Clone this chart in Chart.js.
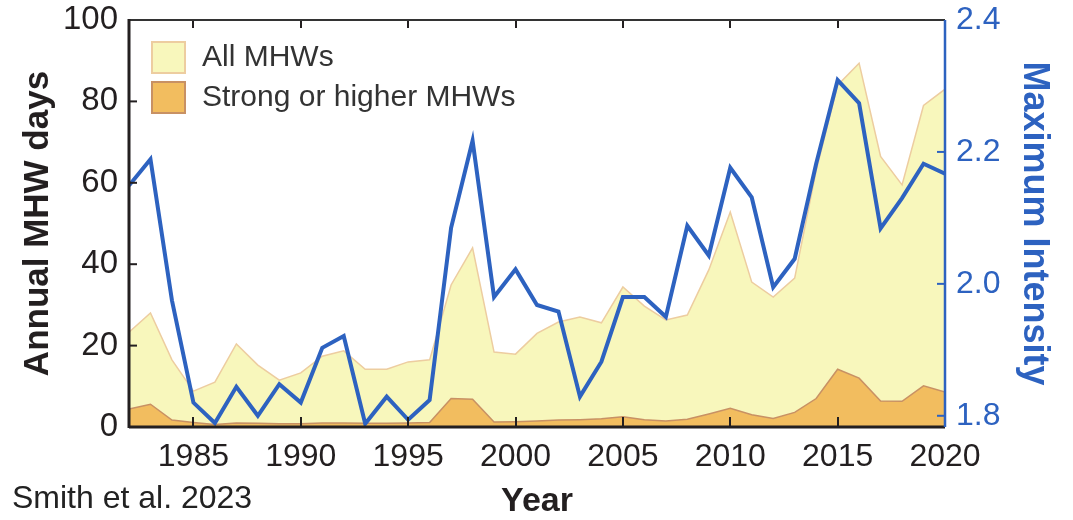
<!DOCTYPE html>
<html lang="en">
<head>
<meta charset="UTF-8">
<title>Annual MHW days and maximum intensity</title>
<script src="https://cdn.jsdelivr.net/npm/chart.js"></script>
<style>
  html, body { margin: 0; padding: 0; background: #fff; }
  #wrap { position: relative; width: 1073px; height: 520px; }
  #source { position: absolute; left: 12px; top: 481px; font: 32px/32px "Liberation Sans", Arial, sans-serif; color: #222; }
</style>
</head>
<body>
<div id="wrap">
  <canvas id="mhwChart" width="1073" height="520"></canvas>
  <div id="source">Smith et al. 2023</div>
</div>
<script>
// values, 1982-2020
var years = [1982, 1983, 1984, 1985, 1986, 1987, 1988, 1989, 1990, 1991,
             1992, 1993, 1994, 1995, 1996, 1997, 1998, 1999, 2000, 2001,
             2002, 2003, 2004, 2005, 2006, 2007, 2008, 2009, 2010, 2011,
             2012, 2013, 2014, 2015, 2016, 2017, 2018, 2019, 2020];
var allDays = [23.3, 28, 16.5, 8.8, 11, 20.4, 15.2, 11.5, 13.3, 17.4,
               18.7, 14.2, 14.2, 16, 16.5, 34.9, 44, 18.4, 17.9, 23,
               25.8, 27, 25.6, 34.4, 29.7, 26.3, 27.5, 38.6, 52.8, 35.6,
               31.9, 36.6, 63, 84, 89.4, 66.5, 59.5, 79, 83];
var strongDays = [4.4, 5.6, 1.7, 1.1, 0.6, 1.0, 0.9, 0.8, 0.8, 1.0,
                  1.0, 0.9, 0.9, 1.0, 1.1, 7.0, 6.8, 1.2, 1.3, 1.5,
                  1.7, 1.8, 2.0, 2.5, 1.8, 1.5, 1.9, 3.2, 4.6, 3.0,
                  2.1, 3.6, 7.0, 14.2, 12.0, 6.4, 6.3, 10.1, 8.6];
var maxIntensity = [2.149, 2.189, 1.975, 1.820, 1.789, 1.844, 1.800, 1.848, 1.820, 1.903,
                    1.921, 1.788, 1.829, 1.794, 1.824, 2.085, 2.217, 1.980, 2.022, 1.968,
                    1.958, 1.829, 1.882, 1.980, 1.980, 1.950, 2.088, 2.043, 2.176, 2.131,
                    1.995, 2.038, 2.182, 2.309, 2.274, 2.084, 2.130, 2.182, 2.167];
var yearTicks = [1985, 1990, 1995, 2000, 2005, 2010, 2015, 2020];
var dayTicks = [0, 20, 40, 60, 80, 100];
var intensityTicks = [1.8, 2.0, 2.2, 2.4];

var blue = '#2d62c0';
var ink = '#231f20';
var font = '"Liberation Sans", Arial, sans-serif';

function pts(vals) {
    return years.map(function (y, i) { return { x: y, y: vals[i] }; });
}
function fixTicks(list) {
    return function (s) { s.ticks = list.map(function (v) { return { value: v }; }); };
}
// fixed axis box sizes, and no extra room for labels hanging over the plot edges
function fixSize(w, h) {
    return function (s) {
        if (w) s.width = w;
        if (h) s.height = h;
        s.paddingTop = 0; s.paddingBottom = 0;
        s.paddingLeft = 0; s.paddingRight = 0;
    };
}

// MATLAB-like frame: inward ticks, box, legend inside the plot
var framePlugin = {
    id: 'frame',
    afterDatasetsDraw: function (chart) {
        var ctx = chart.ctx, a = chart.chartArea;
        var sx = chart.scales.x, sy = chart.scales.y, sy1 = chart.scales.y1;
        function line(x1, y1, x2, y2) {
            ctx.beginPath(); ctx.moveTo(x1, y1); ctx.lineTo(x2, y2); ctx.stroke();
        }
        ctx.save();
        ctx.lineWidth = 2;
        ctx.strokeStyle = ink;
        yearTicks.forEach(function (v) {
            var px = Math.round(sx.getPixelForValue(v));
            line(px, a.bottom, px, a.bottom - 10);
            line(px, a.top, px, a.top + 8);
        });
        dayTicks.forEach(function (v) {
            var py = sy.getPixelForValue(v);
            line(a.left, py, a.left + 8, py);
        });
        ctx.strokeStyle = blue;
        intensityTicks.forEach(function (v) {
            var py = sy1.getPixelForValue(v);
            line(a.right, py, a.right - 8, py);
        });

        ctx.strokeStyle = '#333';
        ctx.lineWidth = 2;
        line(a.left, a.top, a.right, a.top);
        ctx.strokeStyle = ink;
        ctx.lineWidth = 3;
        line(a.left, a.top - 1, a.left, a.bottom + 1);
        line(a.left, a.bottom, a.right, a.bottom);
        ctx.strokeStyle = blue;
        ctx.lineWidth = 2.5;
        line(a.right, a.top, a.right, a.bottom);

        // legend
        var items = [chart.data.datasets[2], chart.data.datasets[1]];
        ctx.font = '30px ' + font;
        ctx.textBaseline = 'middle';
        ctx.textAlign = 'left';
        items.forEach(function (ds, i) {
            var bx = 152, by = 42 + i * 40;
            ctx.fillStyle = ds.backgroundColor;
            ctx.fillRect(bx, by, 33, 31);
            ctx.strokeStyle = ds.borderColor;
            ctx.lineWidth = 2;
            ctx.strokeRect(bx, by, 33, 31);
            ctx.fillStyle = '#333';
            ctx.fillText(ds.label, 202, by + 16);
        });
        ctx.restore();
    }
};

var ctx = document.getElementById('mhwChart').getContext('2d');
var chart = new Chart(ctx, {
    type: 'line',
    data: {
        datasets: [{
            label: 'Maximum Intensity',
            data: pts(maxIntensity),
            yAxisID: 'y1',
            borderColor: blue,
            borderWidth: 4,
            pointRadius: 0,
            fill: false,
            tension: 0
        }, {
            label: 'Strong or higher MHWs',
            data: pts(strongDays),
            yAxisID: 'y',
            borderColor: 'rgb(200,145,100)',
            backgroundColor: 'rgb(242,189,95)',
            borderWidth: 1.5,
            pointRadius: 0,
            fill: 'origin',
            tension: 0
        }, {
            label: 'All MHWs',
            data: pts(allDays),
            yAxisID: 'y',
            borderColor: 'rgb(237,205,160)',
            backgroundColor: 'rgb(248,247,188)',
            borderWidth: 1.5,
            pointRadius: 0,
            fill: 'origin',
            tension: 0
        }]
    },
    options: {
        responsive: false,
        animation: false,
        layout: { padding: { top: 20, left: 0, right: 0, bottom: 0 } },
        plugins: {
            legend: { display: false },
            tooltip: { enabled: false }
        },
        scales: {
            x: {
                type: 'linear',
                position: 'bottom',
                min: 1982,
                max: 2020,
                afterBuildTicks: fixTicks(yearTicks),
                afterFit: fixSize(0, 93),
                grid: { display: false, drawTicks: false },
                border: { display: false },
                ticks: {
                    autoSkip: false,
                    maxRotation: 0,
                    padding: 11,
                    color: ink,
                    font: { family: font, size: 32 },
                    callback: function (v) { return String(v); }
                },
                title: {
                    display: true,
                    text: 'Year',
                    color: ink,
                    font: { family: font, size: 34, weight: 'bold', lineHeight: 1 },
                    padding: { top: 0, bottom: 1 }
                }
            },
            y: {
                position: 'left',
                min: 0,
                max: 100,
                afterBuildTicks: fixTicks(dayTicks),
                afterFit: fixSize(129, 0),
                grid: { display: false, drawTicks: false },
                border: { display: false },
                ticks: {
                    padding: 11,
                    color: ink,
                    font: { family: font, size: 33 }
                },
                title: {
                    display: true,
                    text: 'Annual MHW days',
                    color: ink,
                    font: { family: font, size: 35, weight: 'bold', lineHeight: 1.2 },
                    padding: { top: 17, bottom: 0 }
                }
            },
            y1: {
                position: 'right',
                min: 1.783,
                max: 2.4,
                afterBuildTicks: fixTicks(intensityTicks),
                afterFit: fixSize(128, 0),
                grid: { display: false, drawTicks: false },
                border: { display: false },
                ticks: {
                    padding: 11,
                    color: blue,
                    font: { family: font, size: 32 },
                    callback: function (v) { return v.toFixed(1); }
                },
                title: {
                    display: true,
                    text: 'Maximum Intensity',
                    color: blue,
                    font: { family: font, size: 36, weight: 'bold', lineHeight: 1.2 },
                    padding: { top: 17, bottom: 0 }
                }
            }
        }
    },
    plugins: [framePlugin]
});
</script>
</body>
</html>
